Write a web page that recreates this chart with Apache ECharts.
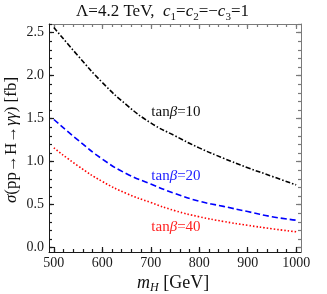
<!DOCTYPE html>
<html><head><meta charset="utf-8">
<script src="https://cdn.jsdelivr.net/npm/echarts@6/dist/echarts.min.js"></script>
<style>html,body{margin:0;padding:0;background:#fff}#c{width:327px;height:294px}</style>
</head><body><div id="c"></div>
<script>
// data
const mH    = [500, 550, 600, 650, 700, 750, 800, 850, 900, 950, 1000];
const tan10 = [2.56, 2.23, 1.92, 1.66, 1.45, 1.30, 1.16, 1.04, 0.93, 0.83, 0.73];
const tan20 = [1.49, 1.25, 1.03, 0.86, 0.74, 0.63, 0.54, 0.48, 0.42, 0.36, 0.32];
const tan40 = [1.16, 0.95, 0.77, 0.63, 0.525, 0.43, 0.36, 0.305, 0.26, 0.22, 0.185];
const xTickLabels = [500, 600, 700, 800, 900, 1000];
const yTickLabels = [0, 0.5, 1.0, 1.5, 2.0, 2.5];
const seriesNames = ['tanβ=10', 'tanβ=20', 'tanβ=40'];
const seriesLabels = ['10', '20', '40'];

const FONT = '"Liberation Serif", "DejaVu Serif", serif';
const pair = (ys) => mH.map((x, i) => [x, ys[i]]);

// frame geometry
const G = {left: 49, right: 26, top: 24, bottom: 42};
const XMIN = 490, XMAX = 1010, YMIN = -0.05, YMAX = 2.6;
const W = 327 - G.left - G.right, H = 294 - G.top - G.bottom;
const px = W / (XMAX - XMIN), py = H / (YMAX - YMIN);
const DARK = '#1a1a1a', GRAY = '#7a7a7a';

const chart = echarts.init(document.getElementById('c'), null, {renderer: 'canvas'});

const hiddenX = (g) => ({type: 'value', gridIndex: g, show: false, min: 0, max: 1});
const hiddenY = (g) => ({type: 'value', gridIndex: g, show: false, min: 0, max: 1});
function tickAxis(g, pos, min, max, interval, len, color) {
  return {
    type: 'value', gridIndex: g, position: pos, min: min, max: max, interval: interval,
    axisLine: {show: true, onZero: false, lineStyle: {color: 'rgba(0,0,0,0)', width: 1}},
    axisTick: {show: true, inside: true, length: len, lineStyle: {color: color, width: 1.2}},
    axisLabel: {show: false}, splitLine: {show: false}
  };
}
function frameAxis(pos, isX, color, labels) {
  const o = {
    type: 'value', gridIndex: 0, position: pos,
    min: isX ? XMIN : YMIN, max: isX ? XMAX : YMAX,
    axisLine: {show: true, onZero: false, lineStyle: {color: color, width: 1}},
    axisTick: {show: false}, splitLine: {show: false},
    axisLabel: {show: false}
  };
  if (labels) {
    o.axisLabel = {show: true, customValues: isX ? xTickLabels : yTickLabels, color: DARK,
      fontFamily: FONT, fontSize: 14, margin: isX ? 4 : 5,
      formatter: isX ? (v => String(v)) : (v => v.toFixed(1))};
  }
  return o;
}

function lab(color, num, coord) {
  return {
    symbol: 'circle', symbolSize: 0, silent: true,
    data: [{coord: coord}],
    label: {show: true, position: 'inside', color: color, fontFamily: FONT, fontSize: 15,
      formatter: 'tan{i|β}=' + num,
      rich: {i: {fontFamily: FONT, fontSize: 15, fontStyle: 'italic', color: color}}}
  };
}

chart.setOption({
  animation: false,
  backgroundColor: '#fff',
  grid: [
    {left: G.left, right: G.right, top: G.top, bottom: G.bottom},
    {left: G.left + (500 - XMIN) * px, right: G.right + (XMAX - 1000) * px, top: G.top, bottom: G.bottom},
    {left: G.left, right: G.right, top: G.top + (YMAX - 2.6) * py, bottom: G.bottom + (0 - YMIN) * py},
    {left: G.left, right: G.right, top: G.top + (YMAX - 2.5) * py, bottom: G.bottom + (0 - YMIN) * py}
  ],
  xAxis: [
    frameAxis('bottom', true, DARK, true),
    frameAxis('top', true, GRAY, false),
    tickAxis(1, 'bottom', 500, 1000, 100, 5, DARK),
    tickAxis(1, 'bottom', 500, 1000, 20, 3, DARK),
    tickAxis(1, 'top', 500, 1000, 100, 5, GRAY),
    tickAxis(1, 'top', 500, 1000, 20, 3, GRAY),
    hiddenX(2),
    hiddenX(3)
  ],
  yAxis: [
    frameAxis('left', false, DARK, true),
    frameAxis('right', false, GRAY, false),
    hiddenY(1),
    tickAxis(2, 'left', 0, 2.6, 0.1, 3, DARK),
    tickAxis(2, 'right', 0, 2.6, 0.1, 3, GRAY),
    tickAxis(3, 'left', 0, 2.5, 0.5, 5, DARK),
    tickAxis(3, 'right', 0, 2.5, 0.5, 5, GRAY)
  ],
  series: [
    {name: seriesNames[0], type: 'line', smooth: true, showSymbol: false, xAxisIndex: 0, yAxisIndex: 0,
     data: pair(tan10), lineStyle: {color: '#000', width: 1.6, type: [5, 2, 1.5, 2]},
     markPoint: lab('#111', seriesLabels[0], [752, 1.58])},
    {name: seriesNames[1], type: 'line', smooth: true, showSymbol: false, xAxisIndex: 0, yAxisIndex: 0,
     data: pair(tan20), lineStyle: {color: '#0000ff', width: 1.6, type: [6, 3]},
     markPoint: lab('#2222ff', seriesLabels[1], [752, 0.83])},
    {name: seriesNames[2], type: 'line', smooth: true, showSymbol: false, xAxisIndex: 0, yAxisIndex: 0,
     data: pair(tan40), lineStyle: {color: '#ff0000', width: 1.6, type: [1.5, 2]},
     markPoint: lab('#ff2222', seriesLabels[2], [752, 0.235])}
  ],
  graphic: [
    {type: 'text', x: 76, y: 12, silent: true,
     style: {text: '{n|Λ=4.2 TeV,  }{i|c}{s|1}{n|=}{i|c}{s|2}{n|=−}{i|c}{s|3}{n|=1}',
       align: 'left', verticalAlign: 'middle', fill: '#111',
       rich: {
         n: {fontFamily: FONT, fontSize: 17, lineHeight: 22, fill: '#111', verticalAlign: 'middle'},
         i: {fontFamily: FONT, fontSize: 17, fontStyle: 'italic', lineHeight: 22, fill: '#111', verticalAlign: 'middle'},
         s: {fontFamily: FONT, fontSize: 11, lineHeight: 11, fill: '#111', verticalAlign: 'bottom'}
       }}},
    {type: 'text', x: 137, y: 283, silent: true,
     style: {text: '{i|m}{s|H}{n| [GeV]}', align: 'left', verticalAlign: 'middle', fill: '#111',
       rich: {
         n: {fontFamily: FONT, fontSize: 18, lineHeight: 22, fill: '#111', verticalAlign: 'middle'},
         i: {fontFamily: FONT, fontSize: 18, fontStyle: 'italic', lineHeight: 22, fill: '#111', verticalAlign: 'middle'},
         s: {fontFamily: FONT, fontSize: 12, fontStyle: 'italic', lineHeight: 12, fill: '#111', verticalAlign: 'bottom'}
       }}},
    {type: 'text', x: 12, y: 140, rotation: Math.PI / 2, silent: true,
     style: {text: '{i|σ}{n|(pp→H→}{i|γγ}{n|) [fb]}', align: 'center', verticalAlign: 'middle', fill: '#111',
       rich: {
         n: {fontFamily: FONT, fontSize: 17, lineHeight: 20, fill: '#111'},
         i: {fontFamily: FONT, fontSize: 17, fontStyle: 'italic', lineHeight: 20, fill: '#111'}
       }}}
  ]
});
</script></body></html>
